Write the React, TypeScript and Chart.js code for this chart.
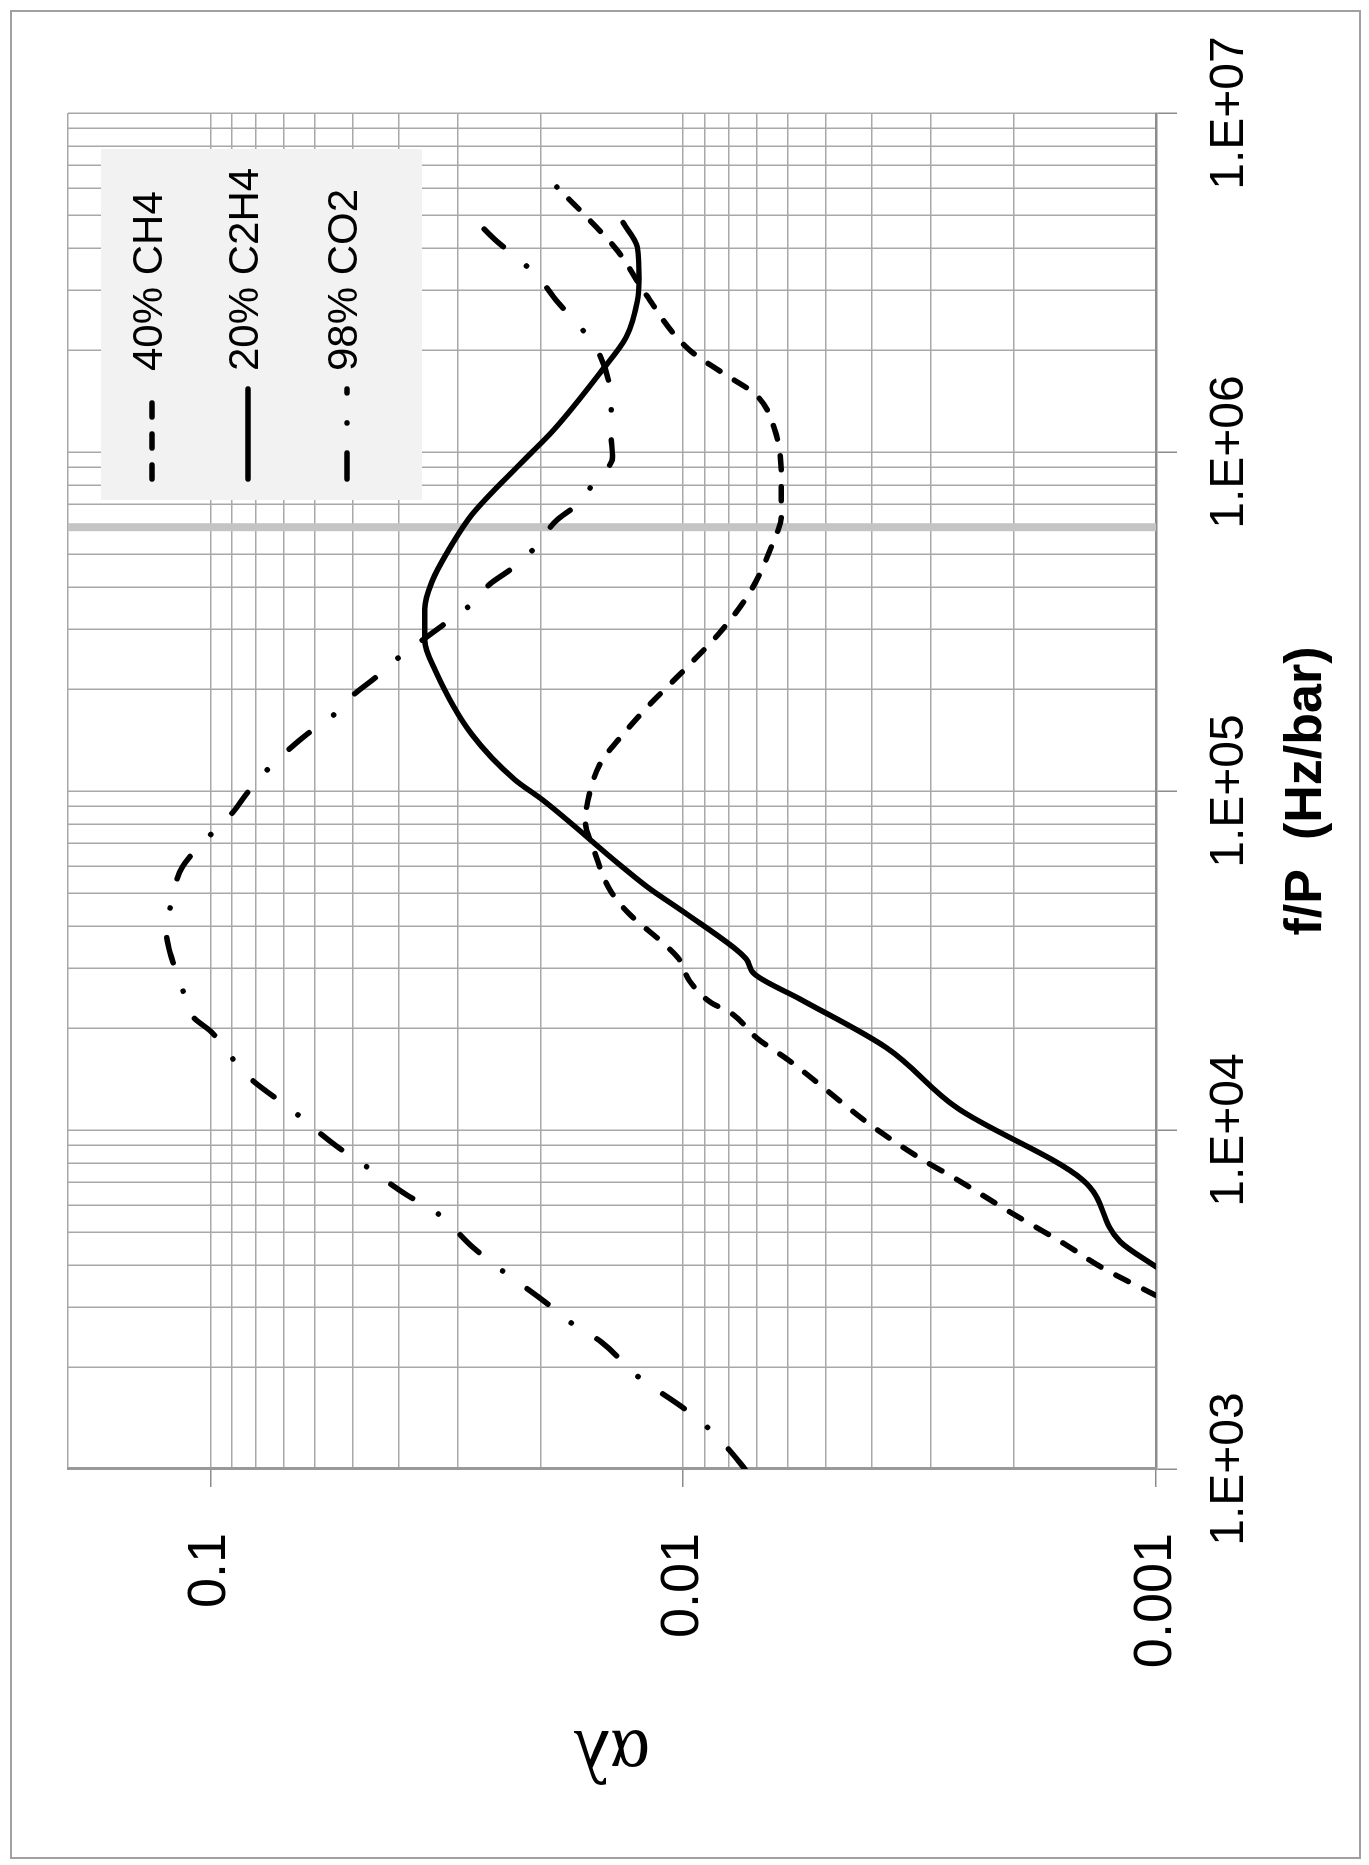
import { useEffect, useRef } from 'react';
import { Chart, registerables } from 'chart.js';

Chart.register(...registerables);

// ---------- data ----------
const seriesLabels = ['40% CH4', '20% C2H4', '98% CO2'];

const xMajorTicks = [1e3, 1e4, 1e5, 1e6, 1e7];
const xTickLabels = ['1.E+03', '1.E+04', '1.E+05', '1.E+06', '1.E+07'];
const yMajorTicks = [0.001, 0.01, 0.1];
const yTickLabels = ['0.001', '0.01', '0.1'];

const xGridValues = [
  1000, 2000, 3000, 4000, 5000, 6000, 7000, 8000, 9000,
  10000, 20000, 30000, 40000, 50000, 60000, 70000, 80000, 90000,
  100000, 200000, 300000, 400000, 500000, 600000, 700000, 800000, 900000,
  1000000, 2000000, 3000000, 4000000, 5000000, 6000000, 7000000, 8000000, 9000000,
  10000000,
];
const yGridValues = [
  0.001, 0.002, 0.003, 0.004, 0.005, 0.006, 0.007, 0.008, 0.009,
  0.01, 0.02, 0.03, 0.04, 0.05, 0.06, 0.07, 0.08, 0.09,
  0.1, 0.2,
];

const ch4Freq = [
  3250, 3950, 4610, 5690, 7130, 8200, 10100, 11500, 13700, 16000, 18600, 22300,
  23700, 27500, 31900, 35100, 43400, 50400, 67900, 81100, 101000, 122000, 147000,
  177000, 226000, 297000, 389000, 528000, 652000, 833000, 1160000, 1470000,
  1720000, 2000000, 2970000, 3890000, 4800000, 6050000,
];
const ch4Alpha = [
  0.00100, 0.00131, 0.00156, 0.00202, 0.00263, 0.00313, 0.00392, 0.00443, 0.00517,
  0.00596, 0.00696, 0.00798, 0.00871, 0.00969, 0.0102, 0.0109, 0.0130, 0.0142,
  0.0155, 0.0161, 0.0157, 0.0149, 0.0134, 0.0119, 0.0100, 0.0083, 0.0072, 0.0065,
  0.0062, 0.0062, 0.0064, 0.0070, 0.0083, 0.0097, 0.0121, 0.0137, 0.0157, 0.0185,
];

const c2h4Freq = [
  3950, 4680, 7130, 11600, 17500, 24300, 28800, 31900, 34000, 43400, 52100, 60500,
  94000, 108000, 147000, 226000, 279000, 344000, 414000, 543000, 652000, 935000,
  1160000, 1730000, 2180000, 2790000, 3240000, 4020000, 4750000,
];
const c2h4Alpha = [
  0.00100, 0.00119, 0.00143, 0.00263, 0.00372, 0.00565, 0.00706, 0.00735, 0.00771,
  0.00984, 0.0119, 0.0136, 0.0198, 0.0227, 0.0280, 0.0334, 0.0352, 0.0352, 0.0340,
  0.0306, 0.0280, 0.0219, 0.0188, 0.0149, 0.0132, 0.0125, 0.0124, 0.0125, 0.0134,
];

const co2Freq = [
  1000, 1140, 1330, 1500, 1880, 2370, 2720, 3110, 3890, 4460, 5770, 6430, 8000,
  8980, 11500, 14300, 17000, 19500, 21500, 26800, 33000, 38300, 48300, 59700,
  74600, 86100, 98600, 113700, 130300, 147200, 166400, 193200, 215300, 246600,
  278700, 308800, 349200, 408300, 451900, 517600, 629700, 693500, 805600, 966100,
  1122000, 1387000, 2000000, 2404000, 2786000, 3236000, 3733000, 4188000, 4831000,
];
const co2Alpha = [
  0.0074, 0.0080, 0.0089, 0.0099, 0.0125, 0.0149, 0.0174, 0.0196, 0.0244, 0.0276,
  0.0336, 0.0384, 0.0480, 0.0542, 0.0675, 0.0828, 0.0921, 0.0996, 0.1086, 0.1152,
  0.1214, 0.1238, 0.1202, 0.1146, 0.0996, 0.0899, 0.0836, 0.0766, 0.0692, 0.0624,
  0.0552, 0.0496, 0.0449, 0.0401, 0.0356, 0.0322, 0.0285, 0.0256, 0.0231, 0.0207,
  0.0185, 0.0169, 0.0155, 0.0141, 0.0142, 0.0142, 0.0152, 0.0168, 0.0185, 0.0201,
  0.0224, 0.0248, 0.0275,
];

const markerFreq = [600000, 600000];
const markerAlpha = [0.001, 0.2];

// ---------- layout / style ----------
const CW = 1849; // unrotated canvas width
const CH = 1351; // unrotated canvas height
const SANS = "'Liberation Sans', Arial, sans-serif";
const SERIF = "'Liberation Serif', 'Times New Roman', serif";
const LEGEND_BOX = { left: 1359, top: 91, width: 351, height: 321 };
const LEGEND_ROWS = [142, 238, 337];
const LEGEND_LINE = { start: 1380, end: 1470, textX: 1488 };

const near = (a: number, b: number) => Math.abs(Math.log10(a) - Math.log10(b)) < 1e-6;
const isDecade = (v: number) => Math.abs(Math.log10(v) - Math.round(Math.log10(v))) < 1e-6;

const toPoints = (xs: number[], ys: number[]) => xs.map((x, i) => ({ x, y: ys[i] }));

const framePlugin = {
  id: 'frame',
  beforeDraw(chart: any) {
    const { ctx, width, height } = chart;
    ctx.save();
    ctx.fillStyle = '#ffffff';
    ctx.fillRect(0, 0, width, height);
    ctx.restore();
  },
  afterDraw(chart: any) {
    const { ctx, width, height } = chart;
    ctx.save();
    ctx.strokeStyle = '#a0a0a0';
    ctx.lineWidth = 2;
    ctx.strokeRect(1, 1, width - 2, height - 2);
    ctx.restore();
  },
};

const legendPlugin = {
  id: 'boxLegend',
  afterDatasetsDraw(chart: any) {
    const ctx = chart.ctx;
    ctx.save();
    ctx.fillStyle = '#f2f2f2';
    ctx.fillRect(LEGEND_BOX.left, LEGEND_BOX.top, LEGEND_BOX.width, LEGEND_BOX.height);
    seriesLabels.forEach((label, i) => {
      const ds = chart.data.datasets[i];
      const y = LEGEND_ROWS[i];
      ctx.save();
      ctx.strokeStyle = ds.borderColor;
      ctx.lineWidth = ds.borderWidth;
      ctx.lineCap = ds.borderCapStyle || 'butt';
      ctx.setLineDash(ds.borderDash || []);
      ctx.beginPath();
      ctx.moveTo(LEGEND_LINE.start, y);
      ctx.lineTo(LEGEND_LINE.end, y);
      ctx.stroke();
      ctx.restore();
      ctx.fillStyle = '#000000';
      ctx.font = `42px ${SANS}`;
      ctx.textAlign = 'left';
      ctx.textBaseline = 'middle';
      ctx.fillText(label, LEGEND_LINE.textX, y - 2);
    });
    ctx.restore();
  },
};

export default function App() {
  const canvasRef = useRef<HTMLCanvasElement | null>(null);

  useEffect(() => {
    if (!canvasRef.current) return;
    const chart = new Chart(canvasRef.current, {
      type: 'line',
      data: {
        datasets: [
          {
            label: seriesLabels[0],
            data: toPoints(ch4Freq, ch4Alpha),
            borderColor: '#000000',
            borderWidth: 5.5,
            borderDash: [14, 17],
            borderCapStyle: 'round',
            cubicInterpolationMode: 'monotone',
            pointRadius: 0,
            order: 1,
          },
          {
            label: seriesLabels[1],
            data: toPoints(c2h4Freq, c2h4Alpha),
            borderColor: '#000000',
            borderWidth: 5.5,
            borderCapStyle: 'round',
            cubicInterpolationMode: 'monotone',
            pointRadius: 0,
            order: 1,
          },
          {
            label: seriesLabels[2],
            data: toPoints(co2Freq, co2Alpha),
            borderColor: '#000000',
            borderWidth: 5.5,
            borderDash: [26, 30, 0.1, 30],
            borderCapStyle: 'round',
            cubicInterpolationMode: 'monotone',
            pointRadius: 0,
            order: 1,
          },
          {
            label: 'marker',
            data: toPoints(markerFreq, markerAlpha),
            borderColor: '#c4c4c4',
            borderWidth: 8,
            pointRadius: 0,
            order: 10,
          },
        ],
      } as any,
      options: {
        animation: false,
        responsive: false,
        devicePixelRatio: 1,
        layout: { padding: { left: 0, right: 103, top: 58, bottom: 0 } },
        plugins: { legend: { display: false }, tooltip: { enabled: false } },
        scales: {
          x: {
            type: 'logarithmic',
            position: 'bottom',
            min: 1000,
            max: 10000000,
            afterBuildTicks: (scale: any) => {
              scale.ticks = xGridValues.map((value) => ({ value }));
            },
            afterFit: (scale: any) => {
              scale.height = 205;
              scale.paddingLeft = 0;
              scale.paddingRight = 0;
            },
            ticks: {
              autoSkip: false,
              maxRotation: 0,
              minRotation: 0,
              padding: 24,
              color: '#000000',
              font: { family: SANS, size: 48 },
              callback: (value: any) => {
                const idx = xMajorTicks.findIndex((t) => near(t, Number(value)));
                return idx >= 0 ? xTickLabels[idx] : '';
              },
            },
            grid: {
              color: '#a8a8a8',
              lineWidth: 1.5,
              tickLength: 21,
              tickColor: (ctx: any) => (ctx.tick && isDecade(ctx.tick.value) ? '#8c8c8c' : 'rgba(0,0,0,0)'),
              tickWidth: 1.5,
            },
            border: { display: true, color: '#8c8c8c', width: 2.5 },
            title: {
              display: true,
              text: 'f/P  (Hz/bar)',
              color: '#000000',
              font: { family: SANS, size: 52, weight: 'bold' },
              padding: { top: 0, bottom: 23 },
            },
          },
          y: {
            type: 'logarithmic',
            position: 'left',
            min: 0.001,
            max: 0.2,
            afterBuildTicks: (scale: any) => {
              scale.ticks = yGridValues.map((value) => ({ value }));
            },
            afterFit: (scale: any) => {
              scale.width = 390;
              scale.paddingTop = 0;
              scale.paddingBottom = 0;
            },
            ticks: {
              autoSkip: false,
              padding: 46,
              color: '#000000',
              font: { family: SANS, size: 54 },
              callback: (value: any) => {
                const idx = yMajorTicks.findIndex((t) => near(t, Number(value)));
                return idx >= 0 ? yTickLabels[idx] : '';
              },
            },
            grid: {
              color: '#a8a8a8',
              lineWidth: 1.5,
              tickLength: 18,
              tickColor: (ctx: any) => (ctx.tick && isDecade(ctx.tick.value) ? '#8c8c8c' : 'rgba(0,0,0,0)'),
              tickWidth: 1.5,
            },
            border: { display: true, color: '#999999', width: 3 },
            title: {
              display: true,
              text: 'αλ',
              color: '#000000',
              font: { family: SERIF, size: 76 },
              padding: { top: 62, bottom: 0 },
            },
          },
        },
      } as any,
      plugins: [framePlugin, legendPlugin],
    });
    return () => chart.destroy();
  }, []);

  return (
    <div
      style={{
        position: 'fixed',
        left: 0,
        top: 0,
        width: 1369,
        height: 1865,
        overflow: 'hidden',
        background: '#ffffff',
      }}
    >
      <div
        style={{
          position: 'absolute',
          left: 10,
          top: 10,
          width: CW,
          height: CH,
          transformOrigin: '0 0',
          transform: `translate(0px, ${CW}px) rotate(-90deg)`,
        }}
      >
        <canvas ref={canvasRef} width={CW} height={CH} style={{ display: 'block', width: CW, height: CH }} />
      </div>
    </div>
  );
}
